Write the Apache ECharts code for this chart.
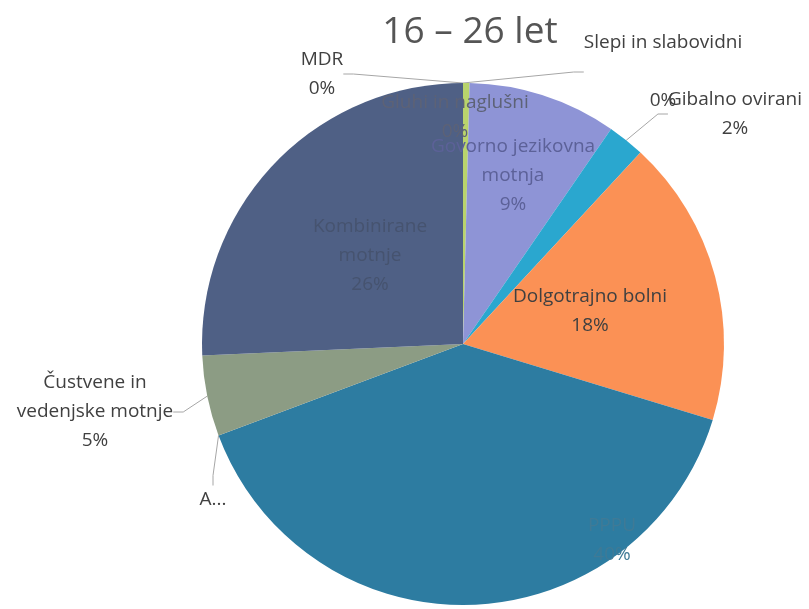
<!DOCTYPE html>
<html>
<head>
<meta charset="utf-8">
<script src="https://cdn.jsdelivr.net/npm/echarts@6/dist/echarts.min.js"></script>
<style>html,body{margin:0;padding:0;background:#fff}#c{width:809px;height:609px}</style>
</head>
<body>
<div id="c"></div>
<script>
const titleText = '16 – 26 let';
const categories = ['MDR', 'Slepi in slabovidni', 'Gluhi in naglušni', 'Govorno jezikovna motnja', 'Gibalno ovirani', 'Dolgotrajno bolni', 'PPPU', 'Avtistične motnje', 'Čustvene in vedenjske motnje', 'Kombinirane motnje'];
const values = [0, 0, 0.4, 9.2, 2.3, 17.8, 39.6, 0, 5.0, 25.7];
const colors = ['#9fb0c8', '#c9d98a', '#b9d46c', '#8e94d6', '#2aa7cf', '#fb9155', '#2d7ca1', '#6f86a0', '#8c9c84', '#4f6085'];
const labelTexts = ['MDR', 'Slepi in slabovidni', 'Gluhi in naglušni', 'Govorno jezikovna\nmotnja', 'Gibalno ovirani', 'Dolgotrajno bolni', 'PPPU', 'A...', 'Čustvene in\nvedenjske motnje', 'Kombinirane\nmotnje'];
const showPct = [true, true, true, true, true, true, true, false, true, true];
const labelColors = ['#404040', '#404040', '#5d6276', '#5c6198', '#404040', '#404040', '#3f7a96', '#404040', '#404040', '#46536f'];
const insideItems = [false, false, true, true, false, true, true, false, false, true];

const labelSpots = {
  0: [322, 74], 1: [663, 72], 2: [455, 117], 3: [513, 176], 4: [735, 114],
  5: [590, 311], 6: [612, 540], 7: [213, 500], 8: [95, 412], 9: [370, 256]
};

const chart = echarts.init(document.getElementById('c'));
const data = categories.map((name, i) => ({
  name: name,
  value: values[i],
  itemStyle: { color: colors[i] },
  label: {
    position: insideItems[i] ? 'inside' : 'outside',
    color: labelColors[i],
    formatter: function (p) {
      let t = labelTexts[i];
      if (showPct[i]) t += (i === 1 ? '\n\n' : '\n') + Math.round(p.percent) + '%';
      return t;
    }
  },
  labelLine: { show: !insideItems[i] }
}));

chart.setOption({
  animation: false,
  title: {
    text: titleText, left: 465, top: 9, textAlign: 'center',
    textStyle: { fontFamily: 'Open Sans', fontSize: 37, fontWeight: 'normal', color: '#555555' }
  },
  series: [{
    type: 'pie',
    center: [463, 344],
    radius: 261,
    startAngle: 90,
    clockwise: true,
    minAngle: 0,
    avoidLabelOverlap: false,
    data: data,
    label: {
      fontFamily: 'Open Sans', fontSize: 19, lineHeight: 29, align: 'center'
    },
    labelLine: { length: 10, length2: 10, lineStyle: { color: '#a6a6a6', width: 1 } },
    labelLayout: function (p) {
      const s = labelSpots[p.dataIndex];
      return { x: s[0], y: s[1], align: 'center', verticalAlign: 'middle' };
    }
  }]
});
</script>
</body>
</html>
